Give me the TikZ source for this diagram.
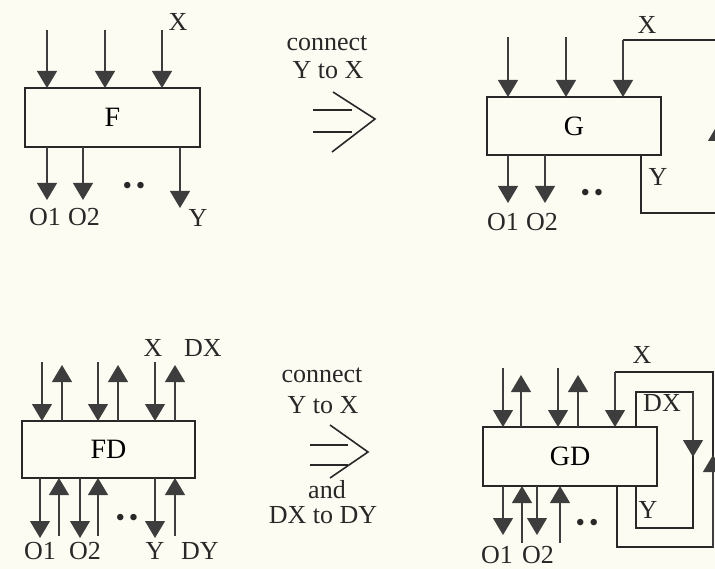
\documentclass[tikz,border=0pt]{standalone}
\usepackage{fontspec}
\setmainfont{Liberation Serif}
\usetikzlibrary{arrows.meta, positioning, calc}
\definecolor{paper}{RGB}{252,252,242}
\definecolor{ink}{RGB}{40,40,40}
\tikzset{
  block/.style = {rectangle, draw=ink, line width=1.3pt, inner sep=0pt, outer sep=0pt,
    font=\fontsize{28}{30}\selectfont},
  lbl/.style = {inner sep=0pt, text=ink, font=\fontsize{26}{28}\selectfont},
  dots/.style = {inner sep=0pt, text=ink, font=\fontsize{27}{27}\selectfont},
  arrow/.style = {draw=ink!90, line width=1.1pt,
    -{Triangle[width=20pt,length=17pt,color=ink!90,fill=ink!90]}},
  line/.style  = {draw=ink, line width=1.1pt},
  implies/.style = {draw=ink, line width=1.6pt},
}

\begin{document}
\begin{tikzpicture}[x=1pt, y=-1pt]

  \fill[paper] (0,0) rectangle (715,569);
  \useasboundingbox (0,0) rectangle (715,569);
  \clip (0,0) rectangle (715,569);

  % Boxes
  \node[block, minimum width=175pt, minimum height=59pt] (F)  at (112.5,117.5) {F};
  \node[block, minimum width=174pt, minimum height=58pt] (G)  at (574,126)     {G};
  \node[block, minimum width=173pt, minimum height=57pt] (FD) at (108.5,449.5) {FD};
  \node[block, minimum width=174pt, minimum height=59pt] (GD) at (570,456.5)   {GD};

  % F
  \foreach \x [count=\i] in {47,105,162} {
    \coordinate (fin\i) at (\x,30);
    \draw[arrow] (fin\i) -- (fin\i |- F.north);
  }
  \foreach \x/\y [count=\i] in {47/200,83/200,180/208} {
    \coordinate (fout\i) at (\x,\y);
    \draw[arrow] (fout\i |- F.south) -- (fout\i);
  }
  \node[lbl] (fX)  at (178,22)  {X};
  \node[lbl] (fO1) at (45,217)  {O1};
  \node[lbl] (fO2) at (84,217)  {O2};
  \node[lbl] (fY)  at (198,218) {Y};
  \node[dots] (fdots) at (134,188) {\textbullet\hspace{4pt}\textbullet};

  % first step
  \node[lbl] (t1a) at (327,43) {connect};
  \node[lbl] (t1b) at (328,70) {Y to X};
  \draw[implies] (313,110) -- (352,110);
  \draw[implies] (313,132) -- (352,132);
  \draw[implies] (333,92) -- (375,119) -- (332,152);

  % G
  \foreach \x [count=\i] in {508,566} {
    \coordinate (gin\i) at (\x,37);
    \draw[arrow] (gin\i) -- (gin\i |- G.north);
  }
  \foreach \x [count=\i] in {508,545} {
    \coordinate (gout\i) at (\x,203);
    \draw[arrow] (gout\i |- G.south) -- (gout\i);
  }
  \coordinate (gy)  at (641,213);
  \coordinate (gr1) at (718,213);
  \coordinate (gr2) at (718,40);
  \coordinate (gx)  at (623,40);
  \draw[line] (gy |- G.south) -- (gy) -- (gr1) -- (gr2) -- (gx);
  \draw[arrow] (gr1) -- (718,124);
  \draw[arrow] (gx) -- (gx |- G.north);
  \node[lbl] (gX)  at (647,25)  {X};
  \node[lbl] (gY)  at (658,177) {Y};
  \node[lbl] (gO1) at (503,222) {O1};
  \node[lbl] (gO2) at (542,222) {O2};
  \node[dots] (gdots) at (592,195) {\textbullet\hspace{4pt}\textbullet};

  % FD
  \foreach \x [count=\i] in {42,98,155} {
    \coordinate (fdin\i) at (\x,362);
    \draw[arrow] (fdin\i) -- (fdin\i |- FD.north);
  }
  \foreach \x [count=\i] in {62,118,175} {
    \coordinate (fdup\i) at (\x,365);
    \draw[arrow] (fdup\i |- FD.north) -- (fdup\i);
  }
  \foreach \x [count=\i] in {40,80,155} {
    \coordinate (fdout\i) at (\x,538);
    \draw[arrow] (fdout\i |- FD.south) -- (fdout\i);
  }
  \foreach \x [count=\i] in {59,98,175} {
    \coordinate (fdback\i) at (\x,536);
    \draw[arrow] (fdback\i) -- (fdback\i |- FD.south);
  }
  \node[lbl] (fdX)  at (153,348) {X};
  \node[lbl] (fdDX) at (203,348) {DX};
  \node[lbl] (fdO1) at (40,551)  {O1};
  \node[lbl] (fdO2) at (85,551)  {O2};
  \node[lbl] (fdY)  at (155,551) {Y};
  \node[lbl] (fdDY) at (200,551) {DY};
  \node[dots] (fddots) at (127,520) {\textbullet\hspace{4pt}\textbullet};

  % second step
  \node[lbl] (t2a) at (322,375) {connect};
  \node[lbl] (t2b) at (323,405) {Y to X};
  \draw[implies] (310,445) -- (348,445);
  \draw[implies] (310,465) -- (348,465);
  \draw[implies] (330,425) -- (368,452) -- (330,478);
  \node[lbl] (t2c) at (327,490) {and};
  \node[lbl] (t2d) at (323,515) {DX to DY};

  % GD
  \foreach \x [count=\i] in {503,558} {
    \coordinate (gdin\i) at (\x,368);
    \draw[arrow] (gdin\i) -- (gdin\i |- GD.north);
  }
  \foreach \x [count=\i] in {521,578} {
    \coordinate (gdup\i) at (\x,375);
    \draw[arrow] (gdup\i |- GD.north) -- (gdup\i);
  }
  \foreach \x [count=\i] in {503,537} {
    \coordinate (gdout\i) at (\x,535);
    \draw[arrow] (gdout\i |- GD.south) -- (gdout\i);
  }
  \foreach \x [count=\i] in {522,560} {
    \coordinate (gdback\i) at (\x,543);
    \draw[arrow] (gdback\i) -- (gdback\i |- GD.south);
  }
  % outer loop Y to X
  \coordinate (gdy)  at (617,547);
  \coordinate (gdo1) at (713,547);
  \coordinate (gdo2) at (713,372);
  \coordinate (gdx)  at (615,372);
  \draw[line] (gdy |- GD.south) -- (gdy) -- (gdo1) -- (gdo2) -- (gdx);
  \draw[arrow] (gdo1) -- (713,455);
  \draw[arrow] (gdx) -- (gdx |- GD.north);
  % inner loop DX to DY
  \coordinate (gddx) at (636,392);
  \coordinate (gdi1) at (693,392);
  \coordinate (gdi2) at (693,528);
  \coordinate (gddy) at (636,528);
  \draw[line] (gddx |- GD.north) -- (gddx) -- (gdi1) -- (gdi2) -- (gddy) -- (gddy |- GD.south);
  \draw[arrow] (gdi1) -- (693,457);
  \node[lbl] (gdX)  at (642,355) {X};
  \node[lbl] (gdDX) at (662,403) {DX};
  \node[lbl] (gdY)  at (648,510) {Y};
  \node[lbl] (gdO1) at (497,555) {O1};
  \node[lbl] (gdO2) at (538,555) {O2};
  \node[dots] (gddots) at (587,525) {\textbullet\hspace{4pt}\textbullet};

\end{tikzpicture}
\end{document}
